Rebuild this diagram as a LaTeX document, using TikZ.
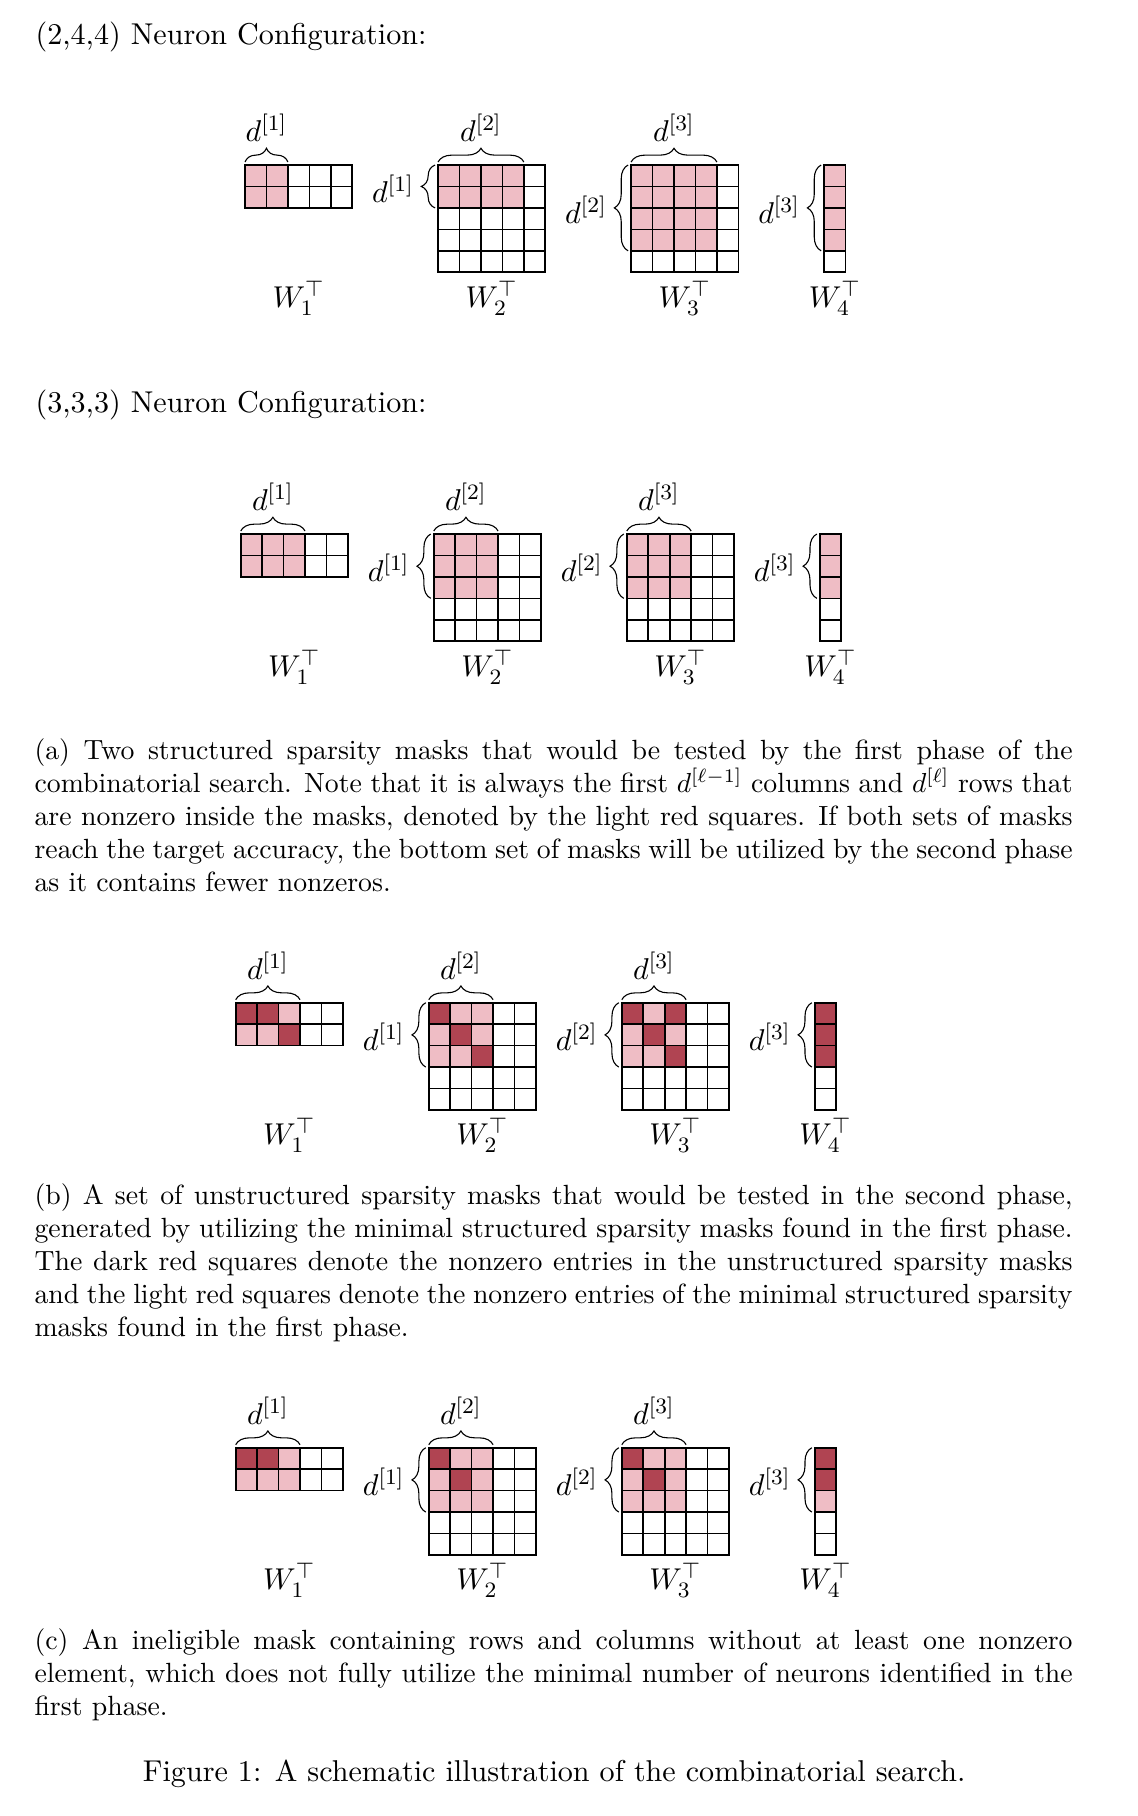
\documentclass[tikz,border=0pt]{standalone}
\usetikzlibrary{calc,positioning,decorations.pathreplacing}
\usepackage{amsmath,amssymb}

\definecolor{lightred}{RGB}{239,189,197}
\definecolor{darkred}{RGB}{176,68,82}

\tikzset{
  cellline/.style={black, line width=0.6pt, line cap=rect},
  lightcell/.style={fill=lightred},
  darkcell/.style={fill=darkred},
  dbrace/.style={decorate, decoration={brace, amplitude=5pt}, line width=0.4pt},
  dlabel/.style={inner sep=0pt, font=\fontsize{10.95}{12}\selectfont},
  wlabel/.style={inner sep=0pt, font=\fontsize{10.95}{12}\selectfont},
  heading/.style={anchor=base west, inner sep=0pt, font=\fontsize{10.95}{12}\selectfont},
  captext/.style={anchor=base west, inner sep=0pt, text width=377.5pt, align=justify, font=\fontsize{10.1}{12}\selectfont}
}

\def\cellw{21.45}

% one transposed mask: block, layer, cols, rows, light cols, light rows, dark cells
\newcommand{\maskmat}[7]{%
  \begin{scope}[shift={({(#2-1)*9*\cellw},0)}]
    \coordinate (#1m#2) at (0,0);
    \fill[lightcell] (0,0) rectangle ({#5*\cellw},{#6*\cellw});
    \foreach \i/\j in {#7} {
      \fill[darkcell] ({\i*\cellw},{\j*\cellw}) rectangle ++(\cellw,\cellw);
    }
    \foreach \i in {0,...,#3} {
      \draw[cellline] ({\i*\cellw},0) -- ({\i*\cellw},{#4*\cellw});
    }
    \foreach \j in {0,...,#4} {
      \draw[cellline] (0,{\j*\cellw}) -- ({#3*\cellw},{\j*\cellw});
    }
    \node[wlabel] (#1W#2) at ({#3*\cellw/2},133) {$W_{#2}^{\top}$};
    \ifnum#2<4
      \coordinate (#1ta#2) at (0,-3);
      \coordinate (#1tb#2) at ({#5*\cellw},-3);
      \draw[dbrace] (#1ta#2) -- (#1tb#2);
      \node[dlabel] (#1dt#2) at ({#5*\cellw/2},-37) {$d^{[#2]}$};
    \fi
    \ifnum#2>1
      \pgfmathtruncatemacro\prevl{#2-1}
      \coordinate (#1la#2) at (-3,{#6*\cellw});
      \coordinate (#1lb#2) at (-3,0);
      \draw[dbrace] (#1la#2) -- (#1lb#2);
      \node[dlabel] (#1dl#2) at (-45,{#6*\cellw/2+2}) {$d^{[\prevl]}$};
    \fi
  \end{scope}}

\begin{document}
\begin{tikzpicture}[x=0.36364pt, y=-0.36364pt]
\useasboundingbox (0,0) rectangle (1138,1816);

% headings
\node[heading] (head1) at (35,44) {(2,4,4) Neuron Configuration:};
\node[heading] (head2) at (35,412.5) {(3,3,3) Neuron Configuration:};

% (2,4,4) structured masks
\begin{scope}[shift={(245,165)}]
\maskmat{a}{1}{5}{2}{2}{2}{}
\maskmat{a}{2}{5}{5}{4}{2}{}
\maskmat{a}{3}{5}{5}{4}{4}{}
\maskmat{a}{4}{1}{5}{1}{4}{}
\end{scope}

% (3,3,3) structured masks
\begin{scope}[shift={(240.7,534)}]
\maskmat{b}{1}{5}{2}{3}{2}{}
\maskmat{b}{2}{5}{5}{3}{3}{}
\maskmat{b}{3}{5}{5}{3}{3}{}
\maskmat{b}{4}{1}{5}{1}{3}{}
\end{scope}

\node[captext] (capa) at (34,759) {(a) Two structured sparsity masks that would be tested by the first phase of the\linebreak combinatorial search. Note that it is always the first $d^{[\ell-1]}$ columns and $d^{[\ell]}$ rows that\linebreak are nonzero inside the masks, denoted by the light red squares. If both sets of masks\linebreak reach the target accuracy, the bottom set of masks will be utilized by the second phase\linebreak as it contains fewer nonzeros.};

% unstructured masks
\begin{scope}[shift={(235.7,1002.7)}]
\maskmat{c}{1}{5}{2}{3}{2}{0/0,1/0,2/1}
\maskmat{c}{2}{5}{5}{3}{3}{0/0,1/1,2/2}
\maskmat{c}{3}{5}{5}{3}{3}{0/0,2/0,1/1,2/2}
\maskmat{c}{4}{1}{5}{1}{3}{0/0,0/1,0/2}
\end{scope}

\node[captext] (capb) at (34,1204) {(b) A set of unstructured sparsity masks that would be tested in the second phase,\linebreak generated by utilizing the minimal structured sparsity masks found in the first phase.\linebreak The dark red squares denote the nonzero entries in the unstructured sparsity masks\linebreak and the light red squares denote the nonzero entries of the minimal structured sparsity\linebreak masks found in the first phase.};

% ineligible mask
\begin{scope}[shift={(235.7,1447.7)}]
\maskmat{d}{1}{5}{2}{3}{2}{0/0,1/0}
\maskmat{d}{2}{5}{5}{3}{3}{0/0,1/1}
\maskmat{d}{3}{5}{5}{3}{3}{0/0,1/1}
\maskmat{d}{4}{1}{5}{1}{3}{0/0,0/1}
\end{scope}

\node[captext] (capc) at (34,1649) {(c) An ineligible mask containing rows and columns without at least one nonzero\linebreak element, which does not fully utilize the minimal number of neurons identified in the\linebreak first phase.};

\node[heading] (fig) at (142.4,1781) {Figure 1: A schematic illustration of the combinatorial search.};

\end{tikzpicture}
\end{document}
